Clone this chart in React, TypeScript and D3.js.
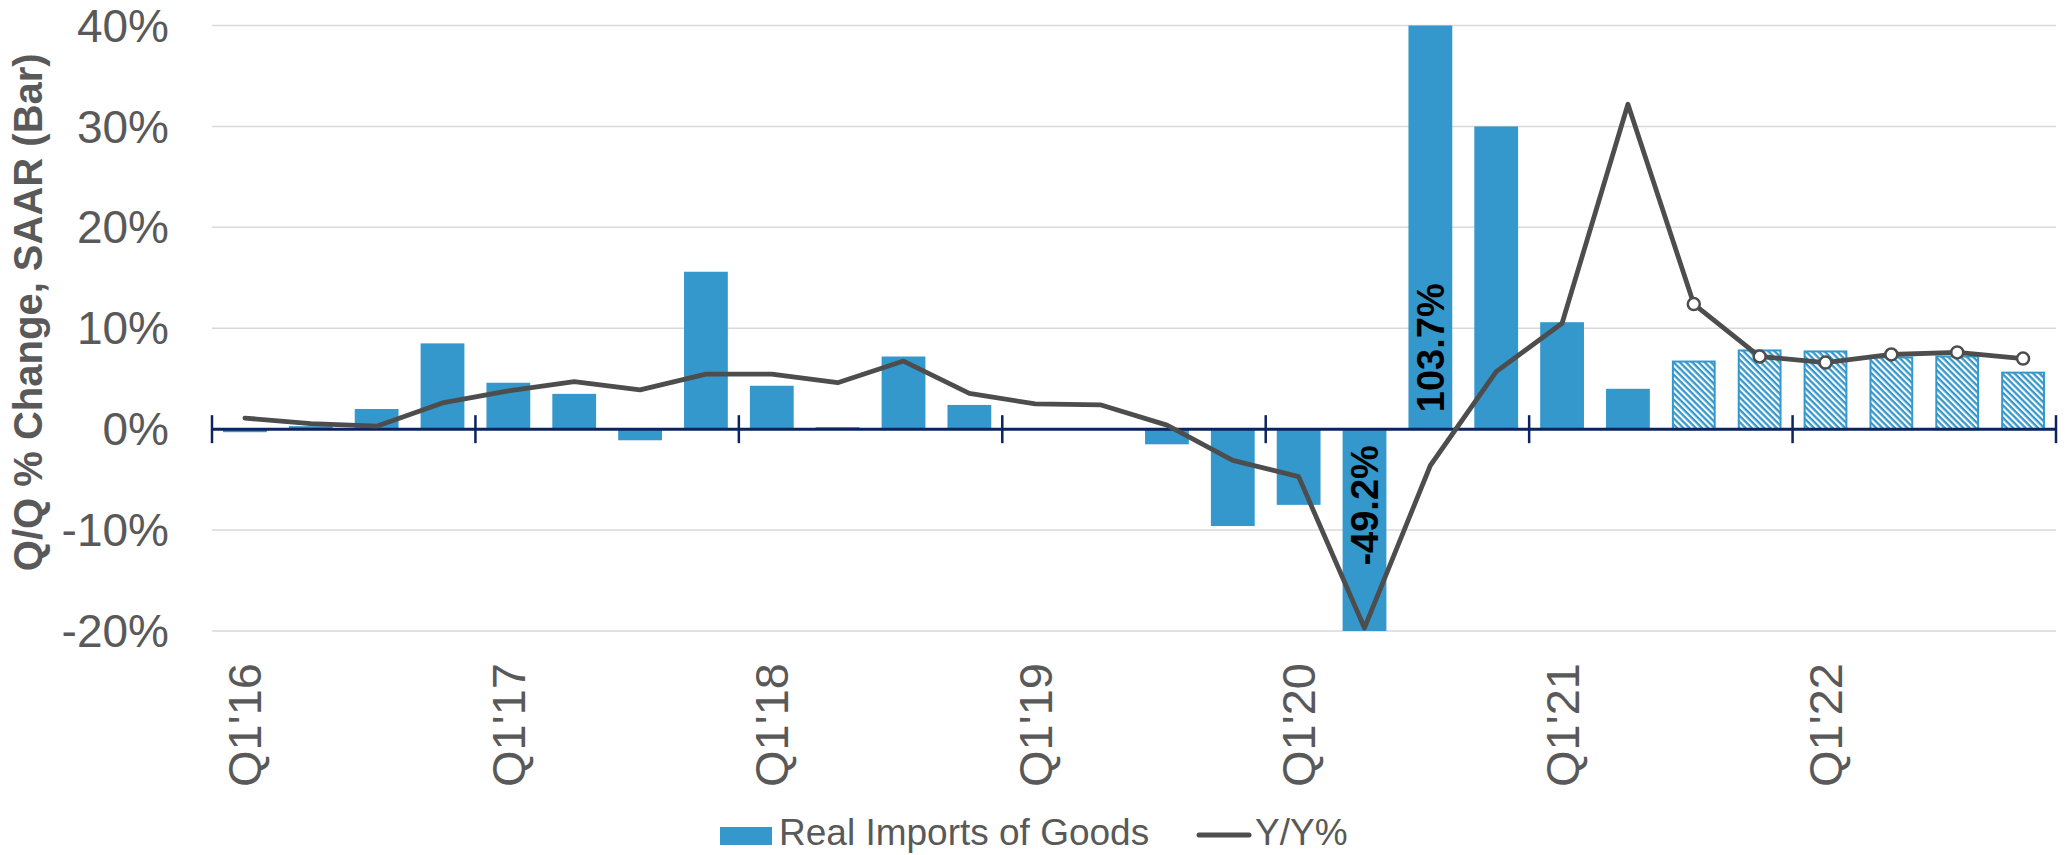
import React, { useEffect } from "react";
import * as d3 from "d3";

const quarters = [
  "Q1'16", "Q2'16", "Q3'16", "Q4'16",
  "Q1'17", "Q2'17", "Q3'17", "Q4'17",
  "Q1'18", "Q2'18", "Q3'18", "Q4'18",
  "Q1'19", "Q2'19", "Q3'19", "Q4'19",
  "Q1'20", "Q2'20", "Q3'20", "Q4'20",
  "Q1'21", "Q2'21", "Q3'21", "Q4'21",
  "Q1'22", "Q2'22", "Q3'22", "Q4'22",
];

// Real Imports of Goods, Q/Q % change SAAR (bars)
const importsQoQ = [
  -0.3, 0.3, 2.0, 8.5,
  4.6, 3.5, -1.1, 15.6,
  4.3, 0.2, 7.2, 2.4,
  0.0, 0.0, -1.5, -9.6,
  -7.5, -49.2, 103.7, 30.0,
  10.6, 4.0, 6.8, 7.9,
  7.8, 7.2, 7.3, 5.7,
];

// Y/Y % (line)
const importsYoY = [
  1.1, 0.55, 0.3, 2.6,
  3.8, 4.7, 3.9, 5.45,
  5.45, 4.6, 6.75, 3.55,
  2.5, 2.4, 0.4, -3.1,
  -4.7, -19.7, -3.6, 5.7,
  10.5, 32.2, 12.4, 7.2,
  6.6, 7.4, 7.6, 7.0,
];

const firstForecast = "Q3'21";
const yTicks = [-20, -10, 0, 10, 20, 30, 40];
const xTickLabels = ["Q1'16", "Q1'17", "Q1'18", "Q1'19", "Q1'20", "Q1'21", "Q1'22"];
const seriesNames = ["Real Imports of Goods", "Y/Y%"];
const yTitle = "Q/Q % Change, SAAR (Bar)";

const W = 2067;
const H = 855;
const BLUE = "#3498cc";
const GRAY_TEXT = "#595959";
const LINE = "#4d4d4d";
const AXIS = "#0b2361";
const FONT = "'Liberation Sans', Arial, sans-serif";

export default function App() {
  useEffect(() => {
    document.body.style.margin = "0";
    document.body.style.overflow = "hidden";
  }, []);

  const left = 212;
  const right = 2056;
  const top = 25.5;
  const bottom = 631;

  const x = d3.scaleBand<string>().domain(quarters).range([left, right]).padding(0);
  const step = x.step();
  const barW = step * 0.665;
  const cx = (q: string) => (x(q) as number) + step / 2;

  const y = d3.scaleLinear().domain([-20, 40]).range([bottom, top]);
  const yc = d3.scaleLinear().domain([-20, 40]).range([bottom, top]).clamp(true);
  const y0 = y(0);

  const fIdx = quarters.indexOf(firstForecast);

  const lineGen = d3
    .line<number>()
    .x((_, i) => cx(quarters[i]))
    .y((v) => y(v));

  const yearTicks = d3.range(0, quarters.length + 1, 4).map((i) => left + i * step);

  const [dMin, dMax] = y.domain();

  return (
    <svg
      width={W}
      height={H}
      style={{ position: "absolute", left: 0, top: 0, display: "block", background: "#fff" }}
      fontFamily={FONT}
    >
      <defs>
        <pattern
          id="hatch"
          patternUnits="userSpaceOnUse"
          width={4.4}
          height={4.4}
          patternTransform="rotate(45)"
        >
          <rect width={4.4} height={4.4} fill="#fff" />
          <rect width={4.4} height={2.3} fill={BLUE} />
        </pattern>
      </defs>
      <rect x={0} y={0} width={W} height={H} fill="#fff" />

      {/* gridlines */}
      {yTicks
        .filter((t) => t !== 0)
        .map((t) => (
          <line key={"g" + t} x1={left} x2={right} y1={y(t)} y2={y(t)} stroke="#d9d9d9" strokeWidth={1.5} />
        ))}

      {/* y tick labels */}
      {yTicks.map((t) => (
        <text
          key={"yt" + t}
          x={169}
          y={y(t)}
          dy="0.35em"
          textAnchor="end"
          fontSize={46}
          fill={GRAY_TEXT}
        >
          {t + "%"}
        </text>
      ))}

      {/* y axis title */}
      <text
        transform={`translate(42, ${(top + bottom) / 2 - 16}) rotate(-90)`}
        textAnchor="middle"
        fontSize={40}
        fontWeight="bold"
        fill={GRAY_TEXT}
      >
        {yTitle}
      </text>

      {/* bars */}
      {quarters.map((q, i) => {
        const v = importsQoQ[i];
        const ya = yc(Math.max(v, 0));
        const yb = yc(Math.min(v, 0));
        const bx = cx(q) - barW / 2;
        const forecast = i >= fIdx;
        if (forecast) {
          return (
            <rect
              key={"b" + q}
              x={bx + 1}
              y={ya + 1}
              width={barW - 2}
              height={Math.max(0, yb - ya - 1)}
              fill="url(#hatch)"
              stroke={BLUE}
              strokeWidth={2}
            />
          );
        }
        return <rect key={"b" + q} x={bx} y={ya} width={barW} height={Math.max(0, yb - ya)} fill={BLUE} />;
      })}

      {/* category axis */}
      <line x1={left} x2={right} y1={y0} y2={y0} stroke={AXIS} strokeWidth={3} />
      {yearTicks.map((tx, i) => (
        <line key={"xt" + i} x1={tx} x2={tx} y1={y0 - 14} y2={y0 + 14} stroke={AXIS} strokeWidth={2.5} />
      ))}
      {xTickLabels.map((lab) => (
        <text
          key={"xl" + lab}
          transform={`translate(${cx(lab)}, 663) rotate(-90)`}
          dy="0.35em"
          textAnchor="end"
          fontSize={47}
          fill={GRAY_TEXT}
        >
          {lab}
        </text>
      ))}

      {/* Y/Y line */}
      <path
        d={lineGen(importsYoY) || ""}
        fill="none"
        stroke={LINE}
        strokeWidth={4.8}
        strokeLinejoin="round"
        strokeLinecap="round"
      />
      {quarters.map((q, i) =>
        i >= fIdx ? (
          <circle
            key={"m" + q}
            cx={cx(q)}
            cy={y(importsYoY[i])}
            r={6}
            fill="#fff"
            stroke={LINE}
            strokeWidth={2.5}
          />
        ) : null
      )}

      {/* labels for bars beyond the axis range */}
      {quarters.map((q, i) => {
        const v = importsQoQ[i];
        if (v <= dMax && v >= dMin) return null;
        const pos = v > 0;
        return (
          <text
            key={"dl" + q}
            transform={`translate(${cx(q)}, ${pos ? y0 - 17 : y0 + 16}) rotate(-90)`}
            dy="0.35em"
            textAnchor={pos ? "start" : "end"}
            fontSize={38}
            fontWeight="bold"
            fill="#000"
          >
            {v.toFixed(1) + "%"}
          </text>
        );
      })}

      {/* legend */}
      <rect x={720} y={827} width={52} height={18} fill={BLUE} />
      <text x={779} y={845} fontSize={37} fill={GRAY_TEXT}>
        {seriesNames[0]}
      </text>
      <line x1={1199} x2={1249} y1={835} y2={835} stroke={LINE} strokeWidth={5} strokeLinecap="round" />
      <text x={1255} y={845} fontSize={37} fill={GRAY_TEXT}>
        {seriesNames[1]}
      </text>
    </svg>
  );
}
